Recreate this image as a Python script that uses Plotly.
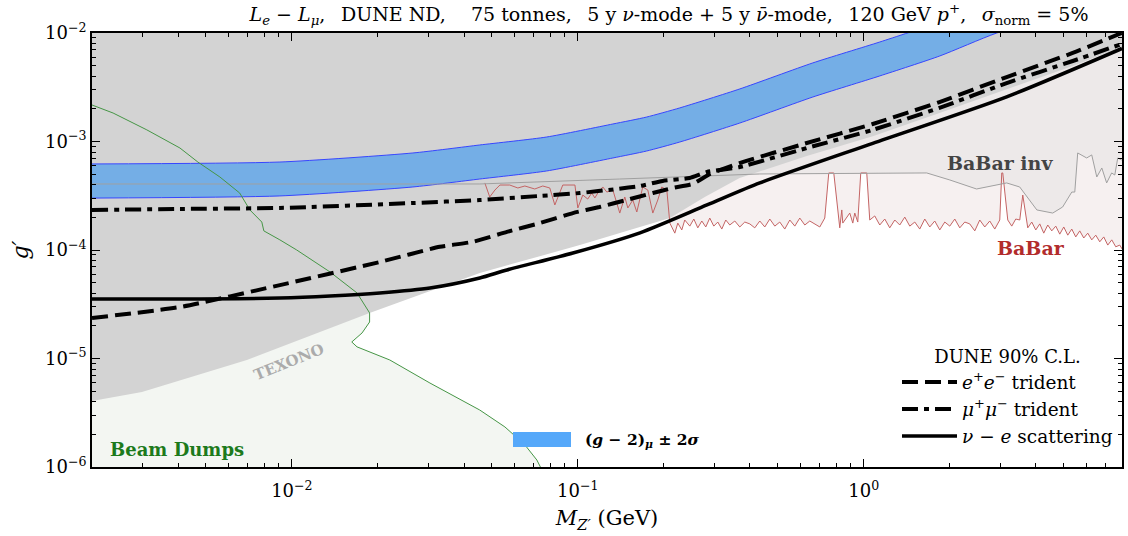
import plotly.graph_objects as go

# ---------------- data (GeV, g') ----------------
nue_m = [0.002, 0.00477, 0.00908, 0.0136, 0.0203, 0.0304, 0.0454, 0.0565, 0.0961, 0.165, 0.283, 0.433, 1.075, 3.16, 8.0]
nue_g = [3.53e-5, 3.53e-5, 3.61e-5, 3.77e-5, 4.02e-5, 4.46e-5, 5.52e-5, 6.55e-5, 9.38e-5, 1.44e-4, 2.60e-4, 4.15e-4, 9.62e-4, 2.58e-3, 7.2e-3]

ee_m = [0.002, 0.00406, 0.00908, 0.0203, 0.0329, 0.0430, 0.0565, 0.0736, 0.0961, 0.119, 0.148, 0.183, 0.215, 0.252, 0.290, 0.368, 0.632, 1.075, 1.84, 3.16, 5.38, 7.98]
ee_g = [2.36e-5, 2.98e-5, 4.75e-5, 7.75e-5, 1.07e-4, 1.19e-4, 1.47e-4, 1.77e-4, 2.19e-4, 2.49e-4, 2.89e-4, 3.35e-4, 3.73e-4, 4.06e-4, 5.02e-4, 6.33e-4, 9.68e-4, 1.45e-3, 2.31e-3, 3.93e-3, 6.55e-3, 1.0e-2]

mm_m = [0.002, 0.00406, 0.00908, 0.0265, 0.0454, 0.0736, 0.1017, 0.137, 0.165, 0.198, 0.246, 0.283, 0.368, 0.632, 1.075, 1.84, 3.16, 5.38, 7.98]
mm_g = [2.34e-4, 2.39e-4, 2.44e-4, 2.71e-4, 2.89e-4, 3.15e-4, 3.35e-4, 3.65e-4, 3.89e-4, 4.33e-4, 4.61e-4, 5.24e-4, 5.82e-4, 8.71e-4, 1.28e-3, 2.04e-3, 3.46e-3, 5.52e-3, 7.92e-3]

gm2_m = [0.002, 0.00908, 0.0265, 0.0454, 0.0778, 0.1326, 0.174, 0.2273, 0.3685, 0.6634, 1.1375, 1.8441, 2.917, 7.98]
gm2_up = [6.21e-4, 6.47e-4, 7.84e-4, 9.29e-4, 1.10e-3, 1.45e-3, 1.68e-3, 2.04e-3, 3.05e-3, 5.30e-3, 8.26e-3, 1.26e-2, 2.0e-2, 4.5e-2]
gm2_lo = [3.01e-4, 3.15e-4, 3.81e-4, 4.51e-4, 5.35e-4, 7.05e-4, 8.17e-4, 9.89e-4, 1.48e-3, 2.57e-3, 4.02e-3, 6.14e-3, 1.0e-2, 2.24e-2]

excl_m = [0.002, 0.00299, 0.00696, 0.0187, 0.0454, 0.1017, 0.210, 0.278, 0.368, 0.632, 1.075, 1.84, 3.16, 5.38, 7.98]
excl_g = [4.06e-6, 4.91e-6, 9.69e-6, 2.63e-5, 6.14e-5, 1.11e-4, 1.97e-4, 3.08e-4, 4.61e-4, 7.35e-4, 1.12e-3, 1.83e-3, 3.05e-3, 4.97e-3, 7.43e-3]

bd_m = [0.002, 0.00237, 0.00311, 0.00406, 0.00469, 0.00560, 0.00657, 0.00713, 0.00785, 0.00798, 0.00908, 0.0104, 0.0136, 0.0169,
        0.0187, 0.0187, 0.0176, 0.0162, 0.0169, 0.0220, 0.0304, 0.0454, 0.0556, 0.0653, 0.0719, 0.0743, 0.0755]
bd_g = [2.17e-3, 1.83e-3, 1.28e-3, 8.71e-4, 6.47e-4, 4.71e-4, 3.35e-4, 2.34e-4, 1.81e-4, 1.50e-4, 1.24e-4, 1.0e-4, 6.27e-5, 4.02e-5,
        2.63e-5, 2.17e-5, 1.72e-5, 1.42e-5, 1.28e-5, 9.69e-6, 5.94e-6, 3.35e-6, 2.34e-6, 1.60e-6, 1.16e-6, 1.0e-6, 9.0e-7]

inv_m = [0.002, 0.0454, 0.140, 0.433, 1.66, 2.00, 2.48, 3.16, 3.51, 4.03, 4.58, 4.96, 5.34, 5.47, 5.60, 6.02, 6.27, 6.53, 6.80, 7.07, 7.36, 7.55, 7.73, 7.98]
inv_g = [4.06e-4, 4.06e-4, 4.51e-4, 5.02e-4, 5.13e-4, 4.42e-4, 3.65e-4, 4.15e-4, 3.81e-4, 2.34e-4, 2.19e-4, 2.49e-4, 3.42e-4, 3.42e-4, 7.84e-4, 7.05e-4, 7.52e-4, 4.71e-4, 5.70e-4, 4.15e-4, 5.13e-4, 4.91e-4, 7.05e-4, 6.75e-4]

babar_m = [0.0473, 0.0492, 0.0513, 0.0534, 0.0578, 0.0617, 0.0653, 0.0707, 0.0754, 0.0798, 0.0831, 0.0851, 0.0886, 0.0977, 0.1000,
           0.1041, 0.1083, 0.1119, 0.1147, 0.1175, 0.1223, 0.1263, 0.1326, 0.1402, 0.1460, 0.1496, 0.1557, 0.1608, 0.1687, 0.1757,
           0.1829, 0.1904, 0.1966, 0.2048, 0.2098, 0.2184, 0.2237, 0.2310, 0.2366, 0.2464, 0.2545, 0.2628, 0.2714, 0.2802, 0.2894,
           0.2989, 0.3087, 0.3188, 0.3292, 0.3400, 0.3540, 0.3685, 0.3836, 0.3994, 0.4158, 0.4329, 0.4507, 0.4692, 0.4885, 0.5085,
           0.5294, 0.5512, 0.5739, 0.5974, 0.6220, 0.6475, 0.6741, 0.7018, 0.7306, 0.7545, 0.7855, 0.8244, 0.8378, 0.8446, 0.8935,
           0.9154, 0.9302, 0.9529, 0.9761, 1.0244, 1.0495, 1.0926, 1.1375, 1.1843, 1.2329, 1.2836, 1.3363, 1.3912, 1.4484, 1.5079,
           1.5698, 1.6343, 1.7014, 1.7713, 1.8441, 1.9199, 1.9988, 2.0810, 2.1664, 2.2554, 2.3480, 2.4445, 2.5449, 2.6495, 2.7583,
           2.8717, 2.9896, 3.0380, 3.0629, 3.1886, 3.2928, 3.4007, 3.5119, 3.598, 3.7457, 3.8681, 3.9950, 4.1256, 4.2605, 4.4002,
           4.5439, 4.6930, 4.8465, 5.0050, 5.1692, 5.3380, 5.5131, 5.6933, 5.8795, 6.0723, 6.2707, 6.4764, 6.6881, 6.9068, 7.1334,
           7.3663, 7.6080, 7.8568, 8.05]
babar_g = [4.15e-4, 3.08e-4, 3.57e-4, 3.97e-4, 3.97e-4, 3.73e-4, 3.89e-4, 3.65e-4, 3.89e-4, 3.73e-4, 2.60e-4, 3.08e-4, 3.97e-4, 3.97e-4, 2.44e-4,
           3.21e-4, 2.95e-4, 3.35e-4, 3.02e-4, 3.35e-4, 3.81e-4, 3.42e-4, 3.57e-4, 2.19e-4, 3.08e-4, 2.44e-4, 2.89e-4, 2.24e-4, 3.81e-4, 3.57e-4,
           2.19e-4, 2.89e-4, 3.81e-4, 3.57e-4, 1.77e-4, 1.43e-4, 1.77e-4, 1.53e-4, 1.89e-4, 1.66e-4, 1.93e-4, 1.60e-4, 1.85e-4, 1.63e-4, 1.97e-4,
           1.66e-4, 1.81e-4, 1.56e-4, 1.89e-4, 1.70e-4, 1.85e-4, 1.63e-4, 1.81e-4, 1.74e-4, 1.60e-4, 1.85e-4, 1.63e-4, 1.93e-4, 1.66e-4, 1.81e-4,
           1.56e-4, 1.89e-4, 1.66e-4, 1.97e-4, 1.70e-4, 1.85e-4, 1.74e-4, 1.63e-4, 1.97e-4, 5.13e-4, 5.13e-4, 1.60e-4, 2.34e-4, 1.77e-4, 2.19e-4,
           1.77e-4, 2.19e-4, 1.81e-4, 5.13e-4, 5.13e-4, 1.89e-4, 2.06e-4, 1.70e-4, 1.93e-4, 1.60e-4, 1.89e-4, 1.70e-4, 2.01e-4, 1.66e-4, 1.81e-4,
           1.56e-4, 1.93e-4, 1.63e-4, 1.85e-4, 1.53e-4, 1.81e-4, 1.66e-4, 1.93e-4, 1.60e-4, 1.81e-4, 1.74e-4, 1.50e-4, 1.89e-4, 1.63e-4, 1.85e-4,
           1.56e-4, 1.89e-4, 5.13e-4, 5.13e-4, 1.89e-4, 1.66e-4, 1.93e-4, 1.89e-4, 3.21e-4, 1.60e-4, 1.81e-4, 1.53e-4, 1.74e-4, 1.43e-4, 1.70e-4,
           1.50e-4, 1.66e-4, 1.40e-4, 1.63e-4, 1.37e-4, 1.56e-4, 1.32e-4, 1.50e-4, 1.29e-4, 1.43e-4, 1.24e-4, 1.37e-4, 1.19e-4, 1.32e-4, 1.11e-4,
           1.24e-4, 1.07e-4, 1.11e-4, 1.0e-4]

x_ticks = [0.01, 0.1, 1]
x_ticktext = ["10<sup>−2</sup>", "10<sup>−1</sup>", "10<sup>0</sup>"]
y_ticks = [1e-6, 1e-5, 1e-4, 1e-3, 1e-2]
y_ticktext = ["10<sup>−6</sup>", "10<sup>−5</sup>", "10<sup>−4</sup>", "10<sup>−3</sup>", "10<sup>−2</sup>"]
x_minor = [m * 10 ** e for e in (-3, -2, -1, 0) for m in range(2, 10) if 0.002 <= m * 10 ** e <= 8]
y_minor = [m * 10 ** e for e in (-6, -5, -4, -3) for m in range(2, 10)]

SERIF = "DejaVu Serif, Liberation Serif, serif"

fig = go.Figure()

# Beam dump region (below green curve)
fig.add_trace(go.Scatter(x=bd_m + [0.0018, 0.0018], y=bd_g + [9e-7, bd_g[0]], fill="toself",
                         fillcolor="#f3f6f2", line=dict(width=0), mode="lines", showlegend=False, hoverinfo="skip"))
# BaBar visible region
fig.add_trace(go.Scatter(x=babar_m + [8.6, babar_m[0]], y=babar_g + [2e-2, 2e-2], fill="toself",
                         fillcolor="#f6f0f0", line=dict(width=0), mode="lines", showlegend=False, hoverinfo="skip"))
# BaBar invisible region
fig.add_trace(go.Scatter(x=inv_m + [8.6, 8.6, 0.0018, 0.0018], y=inv_g + [inv_g[-1], 2e-2, 2e-2, inv_g[0]], fill="toself",
                         fillcolor="#ede9e9", line=dict(width=0), mode="lines", showlegend=False, hoverinfo="skip"))
# Existing exclusions (grey)
fig.add_trace(go.Scatter(x=[0.0018] + excl_m + [8.6, 8.6, 0.0018], y=[excl_g[0]] + excl_g + [excl_g[-1], 2e-2, 2e-2],
                         fill="toself", fillcolor="#d3d3d3", line=dict(width=0), mode="lines",
                         showlegend=False, hoverinfo="skip"))
# (g-2)_mu band
fig.add_trace(go.Scatter(x=gm2_m + gm2_m[::-1], y=gm2_up + gm2_lo[::-1], fill="toself",
                         fillcolor="rgb(116,174,230)", line=dict(color="rgb(55,70,255)", width=1, shape="spline", smoothing=0.6),
                         mode="lines", showlegend=False, hoverinfo="skip"))
# BaBar lines
fig.add_trace(go.Scatter(x=babar_m, y=babar_g, mode="lines", line=dict(color="rgb(196,100,100)", width=1),
                         showlegend=False, hoverinfo="skip"))
fig.add_trace(go.Scatter(x=inv_m, y=inv_g, mode="lines", line=dict(color="rgb(160,160,160)", width=1),
                         showlegend=False, hoverinfo="skip"))
# Beam dump boundary
fig.add_trace(go.Scatter(x=bd_m, y=bd_g, mode="lines", line=dict(color="rgb(70,150,70)", width=1),
                         showlegend=False, hoverinfo="skip"))
# DUNE curves
fig.add_trace(go.Scatter(x=ee_m, y=ee_g, mode="lines", name="<i>e</i><sup>+</sup><i>e</i><sup>−</sup> trident",
                         line=dict(color="black", width=4, dash="16px,7px", shape="spline", smoothing=0.5)))
fig.add_trace(go.Scatter(x=mm_m, y=mm_g, mode="lines", name="<i>μ</i><sup>+</sup><i>μ</i><sup>−</sup> trident",
                         line=dict(color="black", width=4, dash="16px,6px,5px,6px", shape="spline", smoothing=0.5)))
fig.add_trace(go.Scatter(x=nue_m, y=nue_g, mode="lines", name="<i>ν</i> − <i>e</i> scattering",
                         line=dict(color="black", width=3.5, shape="spline", smoothing=0.7)))

W, H = 1128, 536
L, R, T, B = 92, 6, 33, 69
pw, ph = W - L - R, H - T - B


def px(xp):
    return (xp - L) / pw


def py(yp):
    return (H - B - yp) / ph


annots = [
    dict(text="<b>BaBar inv</b>", x=px(1000), y=py(163), font=dict(size=19, color="#444444")),
    dict(text="<b>BaBar</b>", x=px(1031), y=py(248), font=dict(size=19, color="#b22c2c")),
    dict(text="<b>TEXONO</b>", x=px(289), y=py(362), textangle=-22, font=dict(size=15, color="#ababab")),
    dict(text="<b>Beam Dumps</b>", x=px(177), y=py(449), font=dict(size=18, color="#1c7a1c")),
    dict(text="<b>(<i>g</i> − 2)<sub><i>μ</i></sub> ± 2<i>σ</i></b>", x=px(583), y=py(440), xanchor="left",
         font=dict(size=15.5, color="black")),
]
annotations = []
for a in annots:
    a.setdefault("xanchor", "center")
    a.update(xref="paper", yref="paper", showarrow=False, yanchor="middle")
    a["font"]["family"] = SERIF
    annotations.append(a)

axis_common = dict(type="log", showline=True, linecolor="black", linewidth=1.6, mirror="allticks", automargin=False,
                   ticks="inside", ticklen=8, tickwidth=1, tickcolor="black", showgrid=False, zeroline=False,
                   tickfont=dict(family=SERIF, size=18, color="black"))

fig.update_layout(
    width=W, height=H, margin=dict(l=L, r=R, t=T, b=B, autoexpand=False),
    paper_bgcolor="white", plot_bgcolor="white",
    font=dict(family=SERIF, color="black"),
    title=dict(text="<i>L<sub>e</sub></i> − <i>L<sub>μ</sub></i>,\u2002 DUNE ND,\u2002\u2002 75 tonnes,\u2002 5 y <i>ν</i>-mode + 5 y <i>ν̄</i>-mode,\u2002 120 GeV <i>p</i><sup>+</sup>,\u2002 <i>σ</i><sub>norm</sub> = 5%",
               x=669 / W, xanchor="center", xref="container", y=1 - 14 / H, yanchor="middle", yref="container",
               font=dict(family=SERIF, size=19, color="black")),
    xaxis=dict(axis_common, range=[-2.69897, 0.90309], tickvals=x_ticks, ticktext=x_ticktext, ticklabelstandoff=7,
               minor=dict(tickmode="array", tickvals=x_minor, ticks="inside", ticklen=4, tickcolor="black", showgrid=False),
               title=dict(text="<i>M</i><sub><i>Z′</i></sub> (GeV)", font=dict(family=SERIF, size=21), standoff=10)),
    yaxis=dict(axis_common, range=[-6, -2], tickvals=y_ticks, ticktext=y_ticktext,
               minor=dict(tickmode="array", tickvals=y_minor, ticks="inside", ticklen=4, tickcolor="black", showgrid=False),
               title=dict(text="<i>g′</i>", font=dict(family=SERIF, size=22), standoff=10)),
    legend=dict(title=dict(text="DUNE 90% C.L.", side="top center", font=dict(family=SERIF, size=18)),
                x=px(897), y=py(340), xanchor="left", yanchor="top", bgcolor="rgba(0,0,0,0)",
                font=dict(family=SERIF, size=18.5), itemwidth=55, tracegroupgap=0),
    shapes=[dict(type="rect", xref="paper", yref="paper", x0=px(513), x1=px(571), y0=py(447), y1=py(432),
                 fillcolor="rgb(85,168,250)", line=dict(width=0), layer="above")],
    annotations=annotations,
)

fig.write_html("out.html", config={"displayModeBar": False},
               post_script="document.body.style.margin='0';document.body.style.overflow='hidden';")
